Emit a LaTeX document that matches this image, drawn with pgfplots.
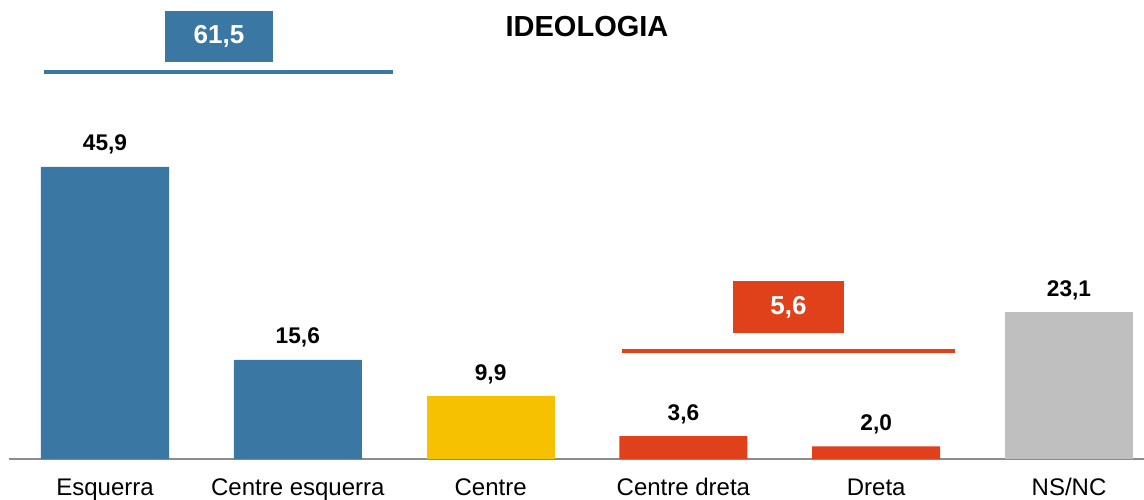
\documentclass[border=0pt]{standalone}
\usepackage{fontspec}
\setmainfont{Liberation Sans}
\usepackage{pgfplots}
\pgfplotsset{compat=1.18}
\definecolor{cblue}{RGB}{58,120,163}
\definecolor{cyellow}{RGB}{246,193,0}
\definecolor{cred}{RGB}{224,65,26}
\definecolor{cgray}{RGB}{191,191,191}
\definecolor{caxis}{RGB}{140,140,140}
\begin{document}
\begin{tikzpicture}
\begin{axis}[
  name=ax,
  scale only axis,
  width=858pt, height=344.25pt,
  xmin=-0.5446, xmax=5.389,
  ymin=0, ymax=72.15,
  hide y axis,
  axis x line*=bottom,
  x axis line style={draw=none},
  clip=false,
  ybar, bar shift=0pt, bar width=96pt,
  xtick={0,1,2,3,4,5},
  xticklabels={Esquerra,Centre esquerra,Centre,Centre dreta,Dreta,NS/NC},
  major tick length=0pt,
  xtick style={draw=none},
  xticklabel style={font=\fontsize{18}{20}\selectfont, anchor=base, yshift=-27pt, inner sep=0pt},
  point meta=explicit symbolic,
  nodes near coords,
  every node near coord/.append style={font=\fontsize{17}{19}\selectfont\bfseries, anchor=base, yshift=12pt, inner sep=0pt, text=black},
]
\draw[caxis, line width=1.1pt] (axis cs:-0.4979,0) -- (axis cs:5.389,0);
\addplot[fill=cblue, draw=none] table[x=x, y=y, meta=l] {
x y l
0 45.9 45,9
1 15.6 15,6
};
\addplot[fill=cyellow, draw=none] table[x=x, y=y, meta=l] {
x y l
2 9.9 9,9
};
\addplot[fill=cred, draw=none] table[x=x, y=y, meta=l] {
x y l
3 3.6 3,6
4 2.0 2,0
};
\addplot[fill=cgray, draw=none] table[x=x, y=y, meta=l] {
x y l
5 23.1 23,1
};
% annotations
\fill[cblue] (axis cs:0.311,62.40) rectangle (axis cs:0.871,70.42);
\node[text=white, font=\fontsize{19.5}{21}\selectfont\bfseries] at (axis cs:0.591,66.41) {61,5};
\draw[cblue, line width=3pt] (axis cs:-0.316,60.83) -- (axis cs:1.494,60.83);
\fill[cred] (axis cs:3.257,19.80) rectangle (axis cs:3.833,27.98);
\node[text=white, font=\fontsize{19.5}{21}\selectfont\bfseries] at (axis cs:3.545,23.89) {5,6};
\draw[cred, line width=3pt] (axis cs:2.682,16.98) -- (axis cs:4.409,16.98);
\node[anchor=base, inner sep=0pt, font=\fontsize{21.75}{24}\selectfont\bfseries] at (axis cs:2.5,66.49) {IDEOLOGIA};
\coordinate (BL) at (rel axis cs:0,0);
\coordinate (TR) at (rel axis cs:1,1);
\end{axis}
\pgfresetboundingbox
\path[use as bounding box] ([yshift=-30pt]BL) rectangle (TR);
\end{tikzpicture}
\end{document}
